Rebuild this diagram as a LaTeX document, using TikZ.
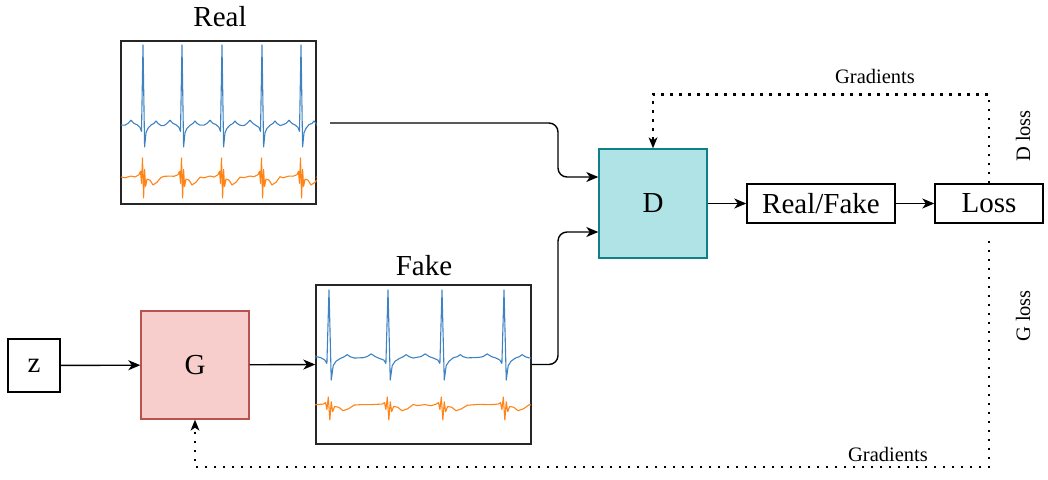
\documentclass[tikz,border=0pt]{standalone}
\usepackage{fontspec}
\setmainfont{Liberation Serif}
\usetikzlibrary{arrows.meta,calc}
\definecolor{gfill}{HTML}{F8CECC}
\definecolor{gline}{HTML}{B85450}
\definecolor{dfill}{HTML}{B0E3E6}
\definecolor{dline}{HTML}{0E8088}
\definecolor{ecgblue}{HTML}{3E82C2}
\definecolor{ecgorange}{HTML}{FF8418}
\newcommand\ecgbigtext{\rmfamily\fontsize{29pt}{33pt}\selectfont}
\newcommand\ecgsmalltext{\rmfamily\fontsize{20.5pt}{24pt}\selectfont}
% blue style trace: #1 xstart #2 xend #3 baseline #4 up #5 down #6 width scale #7 centers
\newcommand\ecgA[7]{%
  \draw[ecgline,ecgblue] (#1,#3) \foreach \c in {#7} {
    -- (\c-18*#6,#3+rand*0.8) -- (\c-15*#6,#3-0.02*#4) -- (\c-12*#6,#3-0.06*#4)
    -- (\c-9*#6,#3-0.02*#4) -- (\c-6*#6,#3+rand*0.6) -- (\c-3*#6,#3+0.03*#4)
    -- (\c-1.5*#6,#3+0.08*#4) -- (\c,#3-#4) -- (\c+1.6*#6,#3+#5)
    -- (\c+3*#6,#3+0.35*#5) -- (\c+5*#6,#3+0.15*#5) -- (\c+8*#6,#3+rand*0.6)
    -- (\c+11*#6,#3-0.02*#4) -- (\c+13*#6,#3-0.05*#4) -- (\c+15*#6,#3-0.02*#4)
    -- (\c+18*#6,#3+rand*0.6) } -- (#2,#3);}
% orange style trace
\newcommand\ecgB[7]{%
  \draw[ecgline,ecgorange] (#1,#3) \foreach \c in {#7} {
    -- (\c-18*#6,#3+rand*0.8) -- (\c-12*#6,#3-0.05*#4) -- (\c-8*#6,#3+rand*0.8)
    -- (\c-4*#6,#3-0.12*#4) -- (\c-2.5*#6,#3-0.3*#4) -- (\c-1.5*#6,#3+0.3*#5)
    -- (\c-0.5*#6,#3-#4) -- (\c+0.6*#6,#3+#5) -- (\c+1.6*#6,#3-0.4*#4)
    -- (\c+2.6*#6,#3+0.45*#5) -- (\c+4*#6,#3+0.1*#5) -- (\c+7*#6,#3+0.15*#5)
    -- (\c+10*#6,#3+0.38*#5) -- (\c+14*#6,#3+0.25*#5) -- (\c+18*#6,#3+rand*0.6)
  } -- (#2,#3);}
\begin{document}
\begin{tikzpicture}[x=1pt,y=-1pt,
  ecgline/.style={line width=1.1pt,line join=round},
  box/.style={draw=black,line width=1.4pt,inner sep=0pt,font=\ecgbigtext},
  sigbox/.style={draw=black!85,line width=1.4pt,inner sep=0pt},
  arr/.style={line width=1.4pt,-{Stealth[length=12pt,width=10pt,inset=3.5pt]}},
  dotarr/.style={line width=2.8pt,dash pattern=on 2.6pt off 6.4pt,-{Stealth[length=11pt,width=9pt,inset=3pt,line width=0pt]}},
  lbl/.style={inner sep=0pt,font=\ecgbigtext},
  slbl/.style={inner sep=0pt,font=\ecgsmalltext}]
\useasboundingbox (0,0) rectangle (1048,479);
\pgfmathsetseed{7}
% signal boxes
\node[sigbox,minimum width=195pt,minimum height=163pt] (realbox) at (218.5,122.5) {};
\node[sigbox,minimum width=215pt,minimum height=159pt] (fakebox) at (423.5,364.5) {};
\begin{scope}
  \clip (realbox.south west) rectangle (realbox.north east);
  \ecgA{121}{316}{125}{80}{22}{1}{143,182,222,262,301}
  \ecgB{121}{316}{177}{19}{21}{1}{143,182,222,262,301}
\end{scope}
\begin{scope}
  \clip (fakebox.south west) rectangle (fakebox.north east);
  \ecgA{316}{531}{358}{68}{22}{1.4}{329,388,442,504}
  \ecgB{316}{531}{405}{8}{15}{1.4}{329,388,442,504}
\end{scope}
\node[lbl] (reallbl) at (220,17) {Real};
\node[lbl] (fakelbl) at (424,266) {Fake};
% blocks
\node[box,minimum width=52pt,minimum height=53pt] (z) at (34,365.5) {z};
\node[box,draw=gline,fill=gfill,minimum width=108pt,minimum height=108pt] (G) at (195,365) {G};
\node[box,draw=dline,fill=dfill,minimum width=108pt,minimum height=109pt] (D) at (653,203.5) {D};
\node[box,minimum width=148pt,minimum height=39pt] (RF) at (821,203.5) {Real/Fake};
\node[box,minimum width=108pt,minimum height=39pt] (Loss) at (989,203.5) {Loss};
% connectors
\coordinate (realout) at (330,123);
\draw[arr,rounded corners=9pt] (realout) -| (558,150) |- ([yshift=26.5pt]D.west);
\draw[arr,rounded corners=9pt] (fakebox.east) -| (558,300) |- ([yshift=-28.5pt]D.west);
\draw[arr] (z) -- (G);
\draw[arr] (G) -- (fakebox.west);
\draw[arr] (D) -- (RF);
\draw[arr] (RF) -- (Loss);
\draw[dotarr] (Loss.north) -- ++(0,-89) -| (D.north);
\coordinate (gstart) at ([yshift=-17pt]Loss.south);
\coordinate (gcorner) at (989,467);
\draw[dotarr] (gstart) -- (gcorner) -| (G.south);
% labels
\node[slbl] (gradtop) at (875,76) {Gradients};
\node[slbl] (gradbot) at (888,454) {Gradients};
\node[slbl,rotate=90] (dloss) at (1023,136) {D loss};
\node[slbl,rotate=90] (gloss) at (1023,316) {G loss};
\end{tikzpicture}
\end{document}
